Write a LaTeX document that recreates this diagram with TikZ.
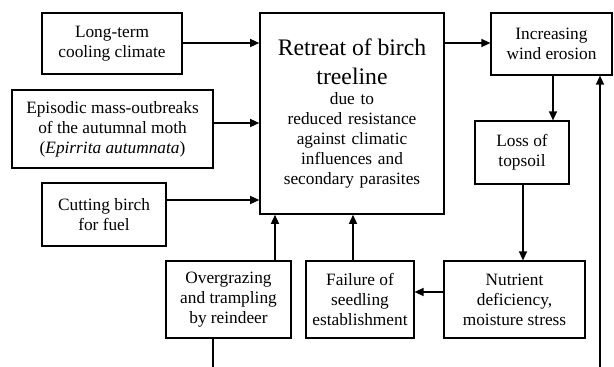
\documentclass[tikz,border=0pt]{standalone}
\usepackage{fontspec}
\setmainfont{Liberation Serif}
\usetikzlibrary{arrows.meta,calc}
\begin{document}
\begin{tikzpicture}[x=1pt,y=-1pt,
  box/.style={draw, line width=1.2pt, inner sep=0pt, align=center,
    font=\fontsize{17.3}{20}\selectfont},
  arr/.style={line width=1.3pt, -{Triangle[length=9pt,width=8pt]}},
  ln/.style={line width=1.3pt}]
\useasboundingbox (0,0) rectangle (614,367);
\fill[white] (0,0) rectangle (614,367);
\node[box, minimum width=140pt, minimum height=61pt] (lt) at (112,43.5) {Long-term\\cooling climate};
\node[box, minimum width=201pt, minimum height=78pt] (ep) at (112.5,129) {Episodic mass-outbreaks\\of the autumnal moth\\(\textit{Epirrita autumnata})};
\node[box, minimum width=124pt, minimum height=63pt] (cb) at (104,214.5) {Cutting birch\\for fuel};
\node[box, line width=1.6pt, minimum width=184pt, minimum height=201pt, text width=184pt] (big) at (352,113.5)
  {{\fontsize{23.7}{29}\selectfont Retreat of birch\\treeline\par}
   due to\\reduced resistance\\against climatic\\influences and\\secondary parasites\\[10pt]};
\node[box, minimum width=121pt, minimum height=62pt] (wind) at (551.5,44) {Increasing\\wind erosion};
\node[box, minimum width=94pt, minimum height=63pt] (loss) at (522,152.5) {Loss of\\topsoil};
\node[box, minimum width=141pt, minimum height=77pt] (nut) at (514.5,299.5) {Nutrient\\deficiency,\\moisture stress};
\node[box, minimum width=108pt, minimum height=77pt] (fail) at (360,299.5) {Failure of\\seedling\\establishment};
\node[box, minimum width=125pt, minimum height=77pt] (over) at (228.5,299.5) {Overgrazing\\and trampling\\by reindeer};
\coordinate (b1) at (213,367);
\coordinate (b2) at (600,367);
\draw[arr] ([yshift=0.5pt]lt.east) -- ([yshift=0.5pt]lt.east -| big.west);
\draw[arr] ([yshift=6pt]ep.east) -- ([yshift=6pt]ep.east -| big.west);
\draw[arr] ([yshift=14.5pt]cb.east) -- ([yshift=14.5pt]cb.east -| big.west);
\draw[arr] ([xshift=46.5pt]over.north) -- ([xshift=46.5pt]over.north |- big.south);
\draw[arr] ([xshift=-7pt]fail.north) -- ([xshift=-7pt]fail.north |- big.south);
\draw[arr] (big.east |- 0,43) -- (wind.west |- 0,43);
\draw[arr] ([xshift=1.5pt]wind.south) -- ([xshift=1.5pt]wind.south |- loss.north);
\draw[arr] ([xshift=1pt]loss.south) -- ([xshift=1pt]loss.south |- nut.north);
\draw[arr] ([yshift=7.5pt]nut.west) -- ([yshift=7.5pt]nut.west -| fail.east);
\draw[ln] (over.south -| b1) -- (b1);
\draw[arr] (b2) -- (b2 |- wind.south);
\end{tikzpicture}
\end{document}
